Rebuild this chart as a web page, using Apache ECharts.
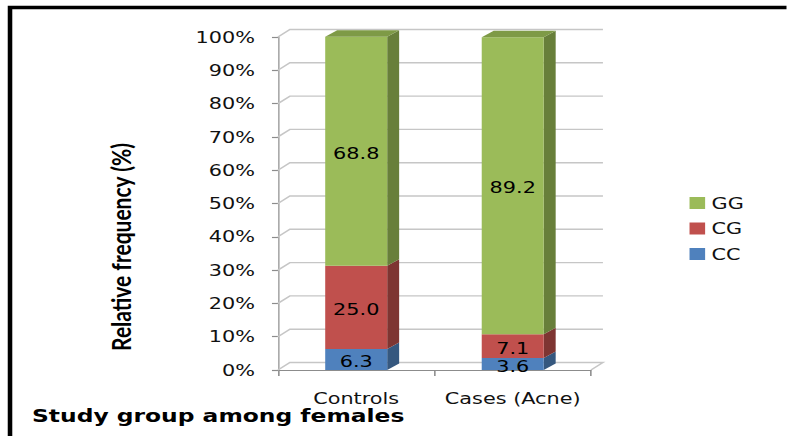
<!DOCTYPE html>
<html>
<head>
<meta charset="utf-8">
<script src="https://cdn.jsdelivr.net/npm/echarts@6/dist/echarts.min.js"></script>
<style>
  html, body { margin: 0; padding: 0; background: #fff; overflow: hidden; }
  #wrap { width: 787px; height: 436px; overflow: hidden; }
  /* the chart is laid out narrow and stretched sideways to its final width */
  #chart { width: 605.4px; height: 436px; transform: scaleX(1.3); transform-origin: 0 0; }
</style>
</head>
<body>
<div id="wrap"><div id="chart"></div></div>
<script>
// ---- data ----
const categories = ['Controls', 'Cases (Acne)'];
const ccValues = [6.3, 3.6];
const cgValues = [25.0, 7.1];
const ggValues = [68.8, 89.2];
const yTicks = [0, 10, 20, 30, 40, 50, 60, 70, 80, 90, 100];
const legendOrder = ['GG', 'CG', 'CC'];

// ---- pseudo-3D styling ----
const BAR_RATIO = 0.396;    // front face width / category band
const BAR_DX = 9.2, BAR_DY = -6.5;    // bar depth offset
const WALL_DX = 9.2, WALL_DY = -7.5;  // back wall offset
const FONT = '"DejaVu Sans", Verdana, sans-serif';

const palette = {
  CC: { face: '#4F81BD', side: '#36587F', top: '#4470A5' },
  CG: { face: '#C0504D', side: '#7E3532', top: '#A04340' },
  GG: { face: '#9BBB59', side: '#687F3A', top: '#7E9A46' }
};

// stacked segments: [category index, lower bound, upper bound, value]
function stackSegments(values, bases) {
  return values.map((v, i) => [i, bases[i], bases[i] + v, v]);
}
const base0 = categories.map(() => 0);
const base1 = ccValues.map((v, i) => base0[i] + v);
const base2 = cgValues.map((v, i) => base1[i] + v);

function segmentRenderer(colors, drawTop) {
  return function (params, api) {
    const cat = api.value(0), lo = api.value(1), hi = api.value(2), v = api.value(3);
    const band = api.size([1, 0])[0];
    const w = band * BAR_RATIO;
    const pLo = api.coord([cat, lo]);
    const pHi = api.coord([cat, hi]);
    const x0 = pLo[0] - w / 2, x1 = pLo[0] + w / 2;
    const yb = pLo[1], yt = pHi[1];
    const children = [
      { type: 'polygon',
        shape: { points: [[x1, yb], [x1 + BAR_DX, yb + BAR_DY], [x1 + BAR_DX, yt + BAR_DY], [x1, yt]] },
        style: { fill: colors.side } },
      { type: 'rect', shape: { x: x0, y: yt, width: w, height: yb - yt },
        style: { fill: colors.face } }
    ];
    if (drawTop) {
      children.push({ type: 'polygon',
        shape: { points: [[x0, yt], [x0 + BAR_DX, yt + BAR_DY], [x1 + BAR_DX, yt + BAR_DY], [x1, yt]] },
        style: { fill: colors.top } });
    }
    children.push({ type: 'text', x: (x0 + x1) / 2, y: (yb + yt) / 2 + 2,
      style: { text: v.toFixed(1), fill: '#000', fontSize: 16, fontFamily: FONT,
               align: 'center', verticalAlign: 'middle' } });
    return { type: 'group', children };
  };
}

function segmentSeries(name, values, bases, z, drawTop) {
  return {
    name, type: 'custom', z, silent: true,
    coordinateSystem: 'cartesian2d',
    itemStyle: { color: palette[name].face },
    encode: { x: 0, y: [1, 2] },
    data: stackSegments(values, bases),
    renderItem: segmentRenderer(palette[name], drawTop)
  };
}

// back wall gridlines with their slanted connectors, and the floor
const wallSeries = {
  name: 'wall', type: 'custom', z: 1, silent: true,
  encode: { x: 0, y: 1 },
  data: yTicks.map(v => [0, v]),
  renderItem(params, api) {
    const v = api.value(1);
    const band = api.size([1, 0])[0];
    const p = api.coord([0, v]);
    const left = p[0] - band / 2;
    const right = api.coord([categories.length - 1, v])[0] + band / 2;
    const pts = [[left, p[1]], [left + WALL_DX, p[1] + WALL_DY], [right + WALL_DX, p[1] + WALL_DY]];
    if (v === 0) pts.push([right, p[1]]);
    return { type: 'polyline', shape: { points: pts },
      style: { stroke: '#C6C6C6', lineWidth: 1.4, fill: null } };
  }
};

const chart = echarts.init(document.getElementById('chart'), null, { renderer: 'svg' });
chart.setOption({
  animation: false,
  backgroundColor: '#fff',
  title: {
    text: 'Study group among females',
    left: 24.6, top: 408, padding: 0,
    textStyle: { fontFamily: FONT, fontWeight: 'bold', fontSize: 18, lineHeight: 16, color: '#000' }
  },
  legend: {
    data: legendOrder,
    orient: 'vertical',
    left: 525.4, top: 190,
    itemWidth: 12, itemHeight: 12, itemGap: 9.5,
    icon: 'rect',
    textStyle: { fontFamily: FONT, fontSize: 16, color: '#111', lineHeight: 16 }
  },
  grid: { left: 213.8, top: 37, width: 240.8, height: 333 },
  xAxis: {
    type: 'category',
    data: categories,
    axisLine: { lineStyle: { color: '#8C8C8C', width: 1.2 } },
    axisTick: { show: true, length: 6, interval: 0, lineStyle: { color: '#8C8C8C', width: 1.2 } },
    axisLabel: { interval: 0, margin: 21, lineHeight: 14, fontFamily: FONT, fontSize: 16, color: '#111' },
    splitLine: { show: false }
  },
  yAxis: {
    type: 'value',
    min: 0, max: 100, interval: 10,
    axisLine: { show: true, lineStyle: { color: '#A6A6A6', width: 1.2 } },
    axisTick: { show: true, length: 4.6, lineStyle: { color: '#8C8C8C', width: 1.2 } },
    axisLabel: { formatter: '{value}%', margin: 17.6, fontFamily: FONT, fontSize: 16, color: '#111' },
    splitLine: { show: false }
  },
  graphic: [{
    type: 'polyline', silent: true, z: 100,
    shape: { points: [[7.7, 440], [7.7, 7.5], [620, 7.5]] },
    style: { stroke: '#000', lineWidth: 3.5, fill: null }
  }, {
    // vertical axis title, sitting lower than the axis midpoint
    type: 'text', silent: true,
    x: 92.3, y: 247, rotation: Math.PI / 2,
    style: { text: 'Relative frequency (%)', fill: '#000', fontFamily: 'Lato',
             fontWeight: 'bold', fontSize: 21, align: 'center', verticalAlign: 'middle' }
  }],
  series: [
    wallSeries,
    segmentSeries('CC', ccValues, base0, 2, false),
    segmentSeries('CG', cgValues, base1, 3, false),
    segmentSeries('GG', ggValues, base2, 4, true)
  ]
});
</script>
</body>
</html>
